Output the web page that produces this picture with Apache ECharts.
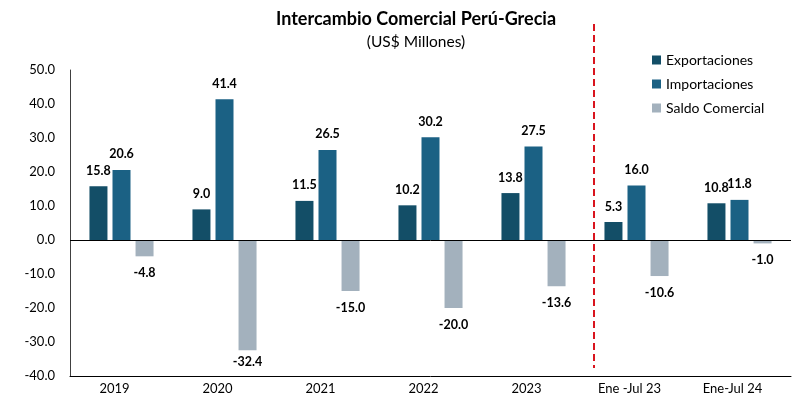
<!DOCTYPE html>
<html>
<head>
<meta charset="utf-8">
<script src="https://cdn.jsdelivr.net/npm/echarts@6/dist/echarts.min.js"></script>
<style>
html,body{margin:0;padding:0;background:#fff;}
#c{width:807px;height:400px;}
</style>
</head>
<body>
<div id="c"></div>
<script>
var categories = ['2019', '2020', '2021', '2022', '2023', 'Ene -Jul 23', 'Ene-Jul 24'];
var exportaciones = [15.8, 9.0, 11.5, 10.2, 13.8, 5.3, 10.8];
var importaciones = [20.6, 41.4, 26.5, 30.2, 27.5, 16.0, 11.8];
var saldo = [-4.8, -32.4, -15.0, -20.0, -13.6, -10.6, -1.0];
var yTicks = {min: -40, max: 50, interval: 10};

var FONT = 'Lato';
var chart = echarts.init(document.getElementById('c'), null, {renderer: 'canvas'});

function lbl(pos, dist) {
  return {
    show: true, position: pos, distance: dist,
    fontFamily: FONT, fontWeight: 'bold', fontSize: 12.5, color: '#000',
    formatter: function (p) { return p.value.toFixed(1); }
  };
}

var saldoData = saldo.map(function (v, i) {
  var item = {value: v};
  if (v < -30) item.label = {distance: 5};
  return item;
});

chart.setOption({
  animation: false,
  backgroundColor: '#fff',
  title: {
    text: 'Intercambio Comercial Perú-Grecia',
    subtext: '(US$ Millones)',
    left: 411, top: 5, textAlign: 'center', itemGap: 6,
    textStyle: {fontFamily: FONT, fontWeight: 'bold', fontSize: 18, color: '#000'},
    subtextStyle: {fontFamily: FONT, fontSize: 15.5, color: '#000'}
  },
  legend: {
    orient: 'vertical', left: 647, top: 48,
    itemWidth: 9, itemHeight: 9, itemGap: 10,
    icon: 'rect',
    textStyle: {fontFamily: FONT, fontSize: 14, color: '#000'},
    data: ['Exportaciones', 'Importaciones', 'Saldo Comercial']
  },
  grid: {left: 70, right: 16, top: 70, bottom: 24, containLabel: false},
  xAxis: {
    type: 'category', data: categories,
    axisLine: {onZero: false, lineStyle: {color: '#000', width: 1}},
    axisTick: {show: false},
    axisLabel: {fontFamily: FONT, fontSize: 13, color: '#000', margin: 6, padding: [0, 14, 0, 0]}
  },
  yAxis: {
    type: 'value', min: yTicks.min, max: yTicks.max, interval: yTicks.interval,
    axisLine: {show: true, lineStyle: {color: '#404040', width: 1}},
    axisTick: {show: false},
    splitLine: {show: false},
    axisLabel: {fontFamily: FONT, fontSize: 13, color: '#000', margin: 15,
      formatter: function (v) { return v.toFixed(1); }}
  },
  series: [
    {name: 'Exportaciones', type: 'bar', data: exportaciones, barWidth: 18, barGap: '28%',
      itemStyle: {color: '#134E67'}, label: lbl('top', 9),
      markLine: {silent: true, symbol: 'none', label: {show: false},
        lineStyle: {color: '#000', width: 1, type: 'solid'}, data: [{yAxis: 0}]}},
    {name: 'Importaciones', type: 'bar', data: importaciones, barWidth: 18, barGap: '28%',
      itemStyle: {color: '#1B6184'}, label: lbl('top', 9)},
    {name: 'Saldo Comercial', type: 'bar', data: saldoData, barWidth: 18, barGap: '28%',
      itemStyle: {color: '#A3B1BD'}, label: lbl('bottom', 10)}
  ],
  graphic: [{
    type: 'line', silent: true,
    shape: {x1: 594, y1: 24, x2: 594, y2: 368},
    style: {stroke: '#D9141E', lineWidth: 2, lineDash: [7, 4]}
  }]
});
</script>
</body>
</html>
